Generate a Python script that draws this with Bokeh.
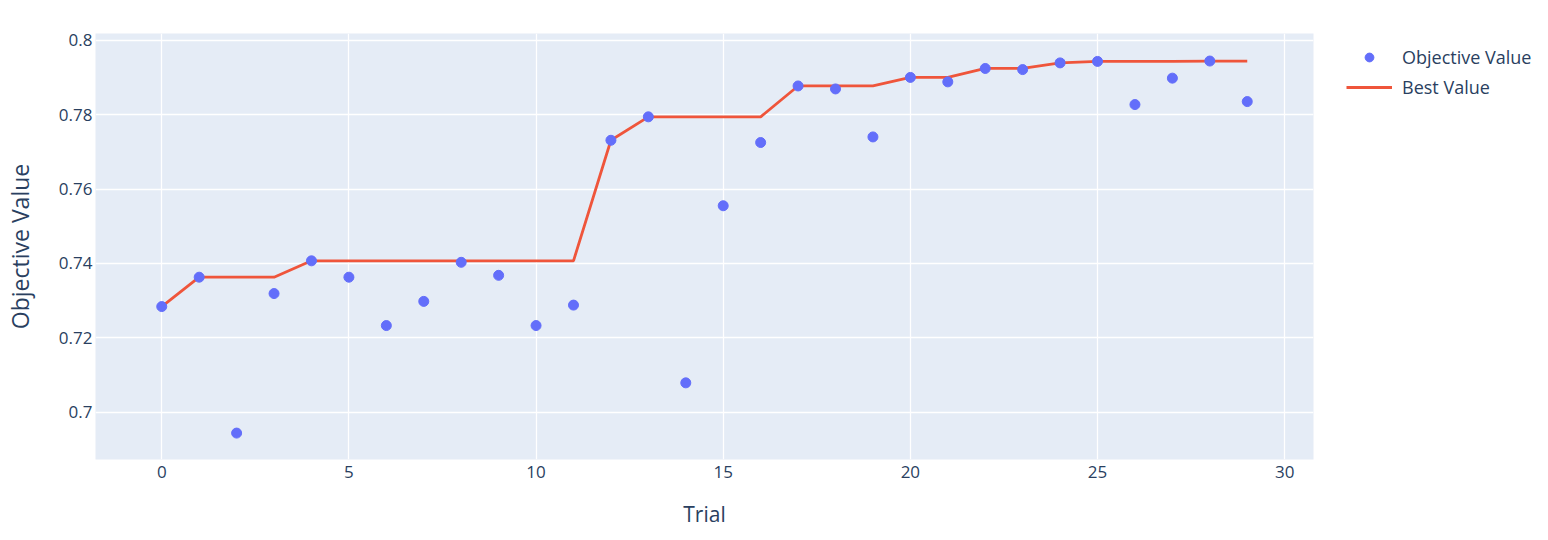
from bokeh.plotting import figure
from bokeh.models import (Range1d, FixedTicker, CustomJSTickFormatter, Legend, LegendItem,
                          ColumnDataSource)
from bokeh.embed import file_html
from bokeh.resources import INLINE

trials = list(range(30))
objective_values = [0.7284, 0.7363, 0.6944, 0.7319, 0.7407, 0.7363, 0.7233, 0.7298, 0.7403, 0.7368,
                    0.7233, 0.7288, 0.7731, 0.7794, 0.7079, 0.7555, 0.7725, 0.7877, 0.7869, 0.7740,
                    0.7900, 0.7888, 0.7924, 0.7921, 0.7939, 0.7943, 0.7827, 0.7898, 0.7944, 0.7835]
best_values = [0.7284, 0.7363, 0.7363, 0.7363, 0.7407, 0.7407, 0.7407, 0.7407, 0.7407, 0.7407,
               0.7407, 0.7407, 0.7731, 0.7794, 0.7794, 0.7794, 0.7794, 0.7877, 0.7877, 0.7877,
               0.7900, 0.7900, 0.7924, 0.7924, 0.7939, 0.7943, 0.7943, 0.7943, 0.7944, 0.7944]
x_ticks = [0, 5, 10, 15, 20, 25, 30]
y_ticks = [0.70, 0.72, 0.74, 0.76, 0.78, 0.80]

FONT = "Open Sans"
TXT = "#2a3f5f"

p = figure(output_backend="svg", toolbar_location=None,
           x_range=Range1d(-1.77, 30.77), y_range=Range1d(0.6873, 0.8018),
           min_border_left=95, min_border_top=33, min_border_bottom=81, min_border_right=235,
           frame_width=1218, frame_height=426)
p.background_fill_color = "#E5ECF6"
p.border_fill_color = "white"
p.outline_line_color = None

src = ColumnDataSource(dict(x=trials, obj=objective_values, best=best_values))
r_line = p.line("x", "best", source=src, line_color="#EF553B", line_width=2.8)
r_pts = p.scatter("x", "obj", source=src, size=10, fill_color="#636EFA", line_color="#636EFA")

for ax in (p.xaxis[0], p.yaxis[0]):
    ax.axis_line_color = None
    ax.major_tick_line_color = None
    ax.minor_tick_line_color = None
    ax.major_tick_out = 0
    ax.major_tick_in = 0
    ax.minor_tick_out = 0
    ax.minor_tick_in = 0
    ax.major_label_text_font = FONT
    ax.major_label_text_font_size = "17px"
    ax.major_label_text_color = TXT
    ax.axis_label_text_font = FONT
    ax.axis_label_text_font_style = "normal"
    ax.axis_label_text_color = TXT

p.xaxis.axis_label_text_font_size = "21px"
p.yaxis.axis_label_text_font_size = "23px"
p.xaxis.ticker = FixedTicker(ticks=x_ticks)
p.yaxis.ticker = FixedTicker(ticks=y_ticks)
p.yaxis.formatter = CustomJSTickFormatter(code="var s = tick.toFixed(2); return s.replace(/0$/, '');")
p.xaxis.axis_label = "Trial"
p.yaxis.axis_label = "Objective Value"
p.xaxis.major_label_standoff = 6
p.yaxis.major_label_standoff = 3
p.xaxis.axis_label_standoff = 19
p.yaxis.axis_label_standoff = 20

p.xgrid.ticker = FixedTicker(ticks=x_ticks)
p.ygrid.ticker = FixedTicker(ticks=y_ticks)
p.xgrid.grid_line_color = "white"
p.ygrid.grid_line_color = "white"
p.xgrid.grid_line_width = 1.3
p.ygrid.grid_line_width = 1.3

legend = Legend(items=[LegendItem(label="Objective Value", renderers=[r_pts]),
                       LegendItem(label="Best Value", renderers=[r_line])],
                location=(33, 360), orientation="vertical",
                margin=0, padding=0, spacing=6,
                glyph_width=46, glyph_height=22, label_height=22, label_standoff=10,
                label_text_font=FONT, label_text_font_size="18px", label_text_color=TXT,
                background_fill_alpha=0, border_line_color=None)
p.add_layout(legend, "right")

open("out.html", "w").write(file_html(p, INLINE))
